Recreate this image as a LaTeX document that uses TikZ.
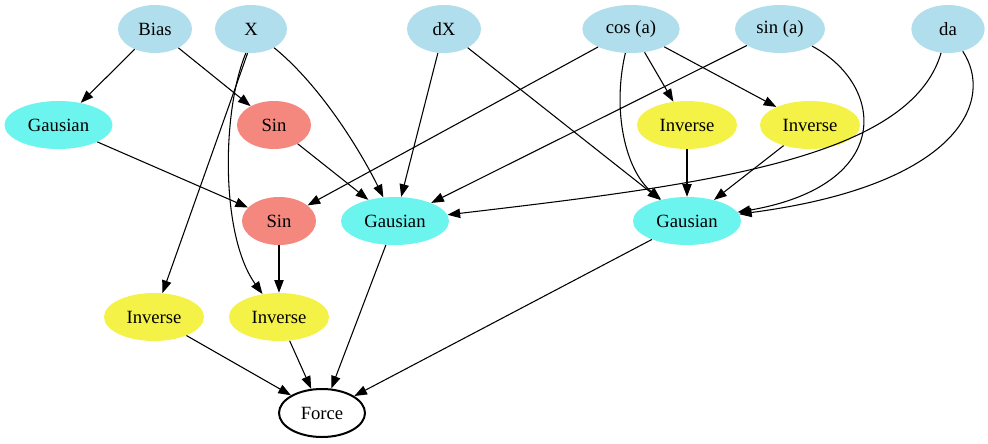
\documentclass[tikz,border=0pt]{standalone}
\usepackage{fontspec}
\setmainfont{Liberation Serif}
\usetikzlibrary{shapes.geometric,arrows.meta}
\definecolor{inblue}{HTML}{B0DEEC}
\definecolor{gauscol}{HTML}{6CF5EF}
\definecolor{sincol}{HTML}{F4877E}
\definecolor{invcol}{HTML}{F4F246}
\tikzset{
  op/.style={ellipse, inner sep=0pt, minimum height=36pt, font=\fontsize{14pt}{16pt}\selectfont},
  inp/.style={op, fill=inblue},
  gaus/.style={op, fill=gauscol, minimum width=81pt},
  sinop/.style={op, fill=sincol, minimum width=55.5pt},
  inv/.style={op, fill=invcol, minimum width=75pt},
  outp/.style={op, draw=black, line width=1.5pt, minimum width=64.5pt},
  edge/.style={draw=black, line width=0.8pt, -{Triangle[length=9.5pt,width=7pt]}}
}
\begin{document}
\begin{tikzpicture}[x=0.75pt,y=-0.75pt]
\useasboundingbox (0,0) rectangle (988,443);

% inputs
\node[inp, minimum width=55.5pt] (bias) at (155,29) {Bias};
\node[inp, minimum width=54pt]   (x)    at (251,29) {X};
\node[inp, minimum width=55.5pt] (dx)   at (444,29) {dX};
\node[inp, minimum width=73pt]   (cosa) at (631,29) {cos (a)};
\node[inp, minimum width=67.5pt] (sina) at (780,29) {sin (a)};
\node[inp, minimum width=55pt]   (da)   at (948,29) {da};

% second row
\node[gaus] (g1) at (58.5,125) {Gausian};
\node[sinop] (s1) at (274,125) {Sin};
\node[inv] (i1) at (687,125) {Inverse};
\node[inv] (i2) at (810,125) {Inverse};

% third row
\node[sinop] (s2) at (279,221) {Sin};
\node[gaus] (g2) at (395,221) {Gausian};
\node[gaus] (g3) at (687,221) {Gausian};

% fourth row
\node[inv] (i3) at (154,317) {Inverse};
\node[inv] (i4) at (279,317) {Inverse};

% output
\node[outp] (force) at (322,413) {Force};

% edges
\draw[edge] (bias) -- (g1);
\draw[edge] (bias) -- (s1);
\draw[edge] (x.262) -- (i3);
\draw[edge] (x.258) .. controls (222,110) and (220,235) .. (i4);
\draw[edge] (x) .. controls (320,85) and (360,150) .. (g2);
\draw[edge] (g1) -- (s2);
\draw[edge] (s1) -- (g2);
\draw[edge] (s2) -- (i4);
\draw[edge] (dx) -- (g2);
\draw[edge] (dx) -- (g3);
\draw[edge] (cosa) -- (s2);
\draw[edge] (cosa) -- (i1);
\draw[edge] (cosa) -- (i2);
\draw[edge] (cosa) .. controls (612,110) and (625,170) .. (g3);
\draw[edge] (sina) -- (g2);
\draw[edge] (sina) .. controls (885,85) and (895,185) .. (g3);
\draw[edge] (da) .. controls (995,100) and (960,185) .. (g3);
\draw[edge] (da) .. controls (910,160) and (700,185) .. (g2);
\draw[edge] (i1) -- (g3);
\draw[edge] (i2) -- (g3);
\draw[edge] (i3) -- (force);
\draw[edge] (i4) -- (force);
\draw[edge] (g2) -- (force);
\draw[edge] (g3) -- (force);
\end{tikzpicture}
\end{document}
